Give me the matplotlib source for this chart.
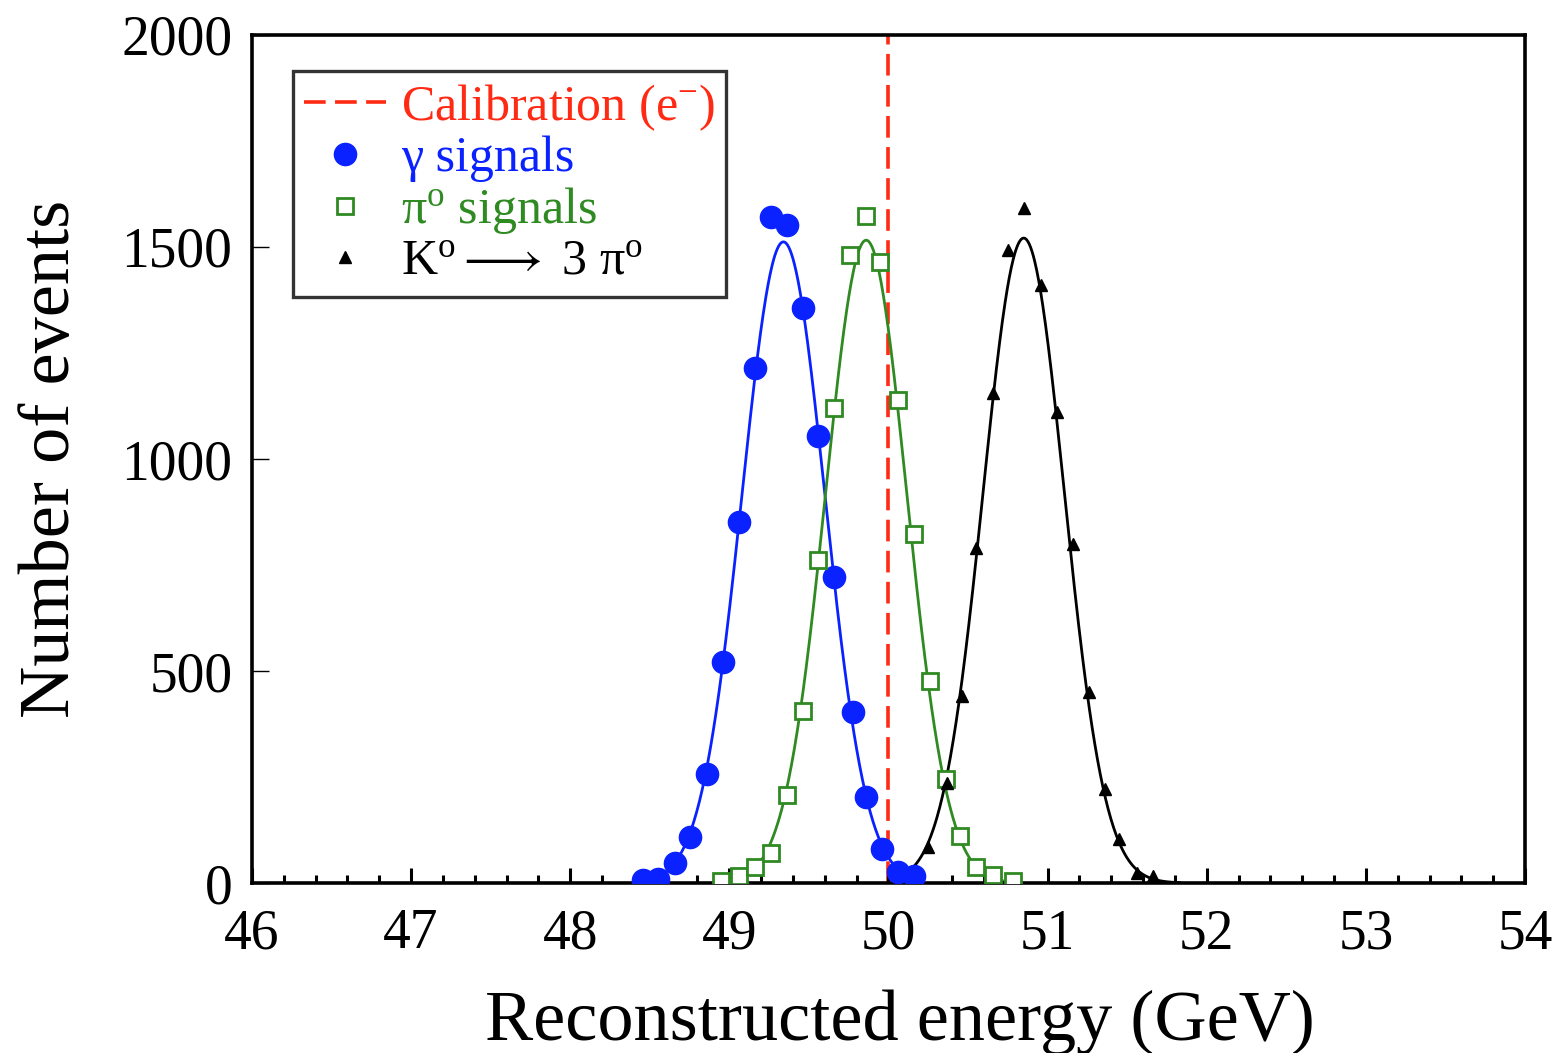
import numpy as np
import matplotlib
matplotlib.use("Agg")
import matplotlib.pyplot as plt
from matplotlib.lines import Line2D

plt.rcParams["font.family"] = ["Liberation Serif", "DejaVu Serif"]
plt.rcParams["mathtext.fontset"] = "custom"
plt.rcParams["mathtext.rm"] = "Liberation Serif"
plt.rcParams["mathtext.it"] = "Liberation Serif:italic"

# photon signals
gamma_e = [48.46, 48.55, 48.66, 48.75, 48.86, 48.96, 49.06, 49.16, 49.26,
           49.36, 49.46, 49.56, 49.66, 49.78, 49.86, 49.96, 50.06, 50.16]
gamma_n = [8, 10, 48, 108, 258, 522, 852, 1215, 1571,
           1552, 1355, 1054, 722, 404, 204, 80, 26, 16]

# pi0 signals
pi0_e = [48.95, 49.06, 49.16, 49.26, 49.36, 49.46, 49.56, 49.66, 49.76, 49.86,
         49.95, 50.06, 50.16, 50.26, 50.36, 50.45, 50.55, 50.66, 50.78]
pi0_n = [5, 16, 37, 70, 207, 406, 762, 1120, 1480, 1572,
         1465, 1139, 822, 477, 246, 111, 39, 18, 5]

# K0 -> 3 pi0
k0_e = [50.25, 50.37, 50.46, 50.55, 50.66, 50.75, 50.85, 50.96,
        51.06, 51.16, 51.26, 51.36, 51.45, 51.56, 51.66]
k0_n = [85, 235, 441, 790, 1156, 1492, 1592, 1410,
        1110, 799, 450, 221, 103, 23, 16]

# gaussian fit results as drawn (gamma, pi0, K0)
fit_amp = [1512, 1516, 1521]
fit_mean = [49.34, 49.86, 50.85]
fit_sigma = [0.26, 0.255, 0.255]
fit_lo = [48.45, 48.95, 50.14]
fit_hi = [50.15, 50.80, 51.83]

calib_e = 50.0

BLUE = "#0a22ff"
GREEN = "#2f8a22"
RED = "#ff2a14"
colors = [BLUE, GREEN, "black"]


fig = plt.figure(figsize=(15.55, 10.53), dpi=100)
ax = fig.add_axes([0.162, 0.1614, 0.8187, 0.8054])

ax.axvline(calib_e, color=RED, lw=2.6, ls=(0, (6, 2.6)), zorder=1)

for a, mu, s, lo, hi, col in zip(fit_amp, fit_mean, fit_sigma, fit_lo, fit_hi, colors):
    xs = np.linspace(lo, hi, 400)
    ax.plot(xs, a * np.exp(-0.5 * ((xs - mu) / s) ** 2), color=col, lw=2.0, zorder=2)

ax.plot(gamma_e, gamma_n, "o", color=BLUE, ms=16, mec=BLUE, zorder=3)
ax.plot(pi0_e, pi0_n, "s", mfc="white", mec=GREEN, mew=2.0, ms=11.5, zorder=3)
ax.plot(k0_e, k0_n, "^", color="black", ms=8.5, zorder=3)

ax.set_xlim(46, 54)
ax.set_ylim(0, 2000)
ax.set_xticks(np.arange(46, 54.1, 1))
ax.set_xticks(np.arange(46, 54.01, 0.2), minor=True)
ax.set_yticks(np.arange(0, 2001, 500))
ax.tick_params(axis="x", which="major", direction="in", length=11, width=2.2,
               labelsize=40, pad=18)
ax.tick_params(axis="x", which="minor", direction="in", length=6, width=2.2)
ax.tick_params(axis="y", which="major", direction="in", length=12, width=1.0,
               labelsize=40, pad=14)
for s in ax.spines.values():
    s.set_linewidth(2.6)

ax.set_xlabel("Reconstructed energy (GeV)", fontsize=52, labelpad=18)
ax.xaxis.set_label_coords(0.509, -0.125)
ax.set_ylabel("Number of events", fontsize=52, labelpad=27)

handles = [
    Line2D([], [], color=RED, lw=2.6, ls=(0, (6, 2.6))),
    Line2D([], [], ls="none", marker="o", color=BLUE, ms=16),
    Line2D([], [], ls="none", marker="s", mfc="white", mec=GREEN, mew=2.0, ms=11.5),
    Line2D([], [], ls="none", marker="^", color="black", ms=8.5),
]
labels = [
    "Calibration (e$^{-}$)",
    "γ signals",
    "π$^{\\rm o}$ signals",
    "K$^{\\rm o}$$\\longrightarrow$ 3 π$^{\\rm o}$",
]
leg = ax.legend(handles, labels, loc="upper left", bbox_to_anchor=(0.032, 0.9575),
                borderaxespad=0, fontsize=36, frameon=True, fancybox=False,
                handlelength=1.65, handletextpad=0.3, labelspacing=0.06,
                borderpad=0.22, edgecolor="black")
leg.get_frame().set_linewidth(2.4)
for t, c in zip(leg.get_texts(), [RED, BLUE, GREEN, "black"]):
    t.set_color(c)

fig.savefig("out.png", dpi=100)
